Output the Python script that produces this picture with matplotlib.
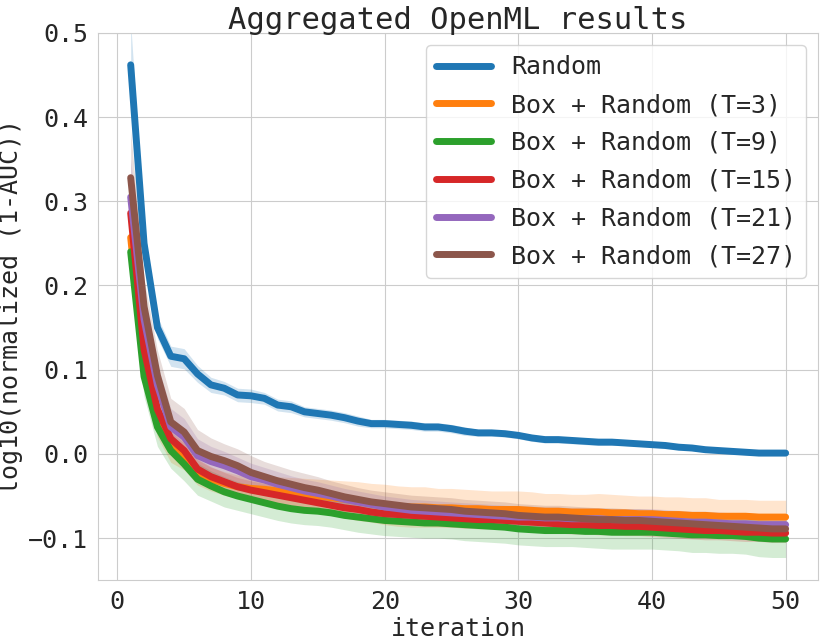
import matplotlib
matplotlib.use('Agg')
import matplotlib.pyplot as plt
import seaborn as sns
import numpy as np

iterations = list(range(1, 51))

random_mean = [0.462, 0.250, 0.150, 0.116, 0.113, 0.095, 0.082, 0.078, 0.070, 0.069,
               0.066, 0.058, 0.056, 0.050, 0.048, 0.046, 0.043, 0.039, 0.036, 0.036,
               0.035, 0.034, 0.032, 0.032, 0.030, 0.027, 0.025, 0.025, 0.024, 0.022,
               0.019, 0.017, 0.017, 0.016, 0.015, 0.014, 0.014, 0.013, 0.012, 0.011,
               0.010, 0.008, 0.007, 0.005, 0.004, 0.003, 0.002, 0.001, 0.001, 0.001]
random_err = [0.050, 0.020, 0.013, 0.012, 0.012, 0.010, 0.009, 0.008, 0.008, 0.008,
              0.007, 0.007, 0.007, 0.006, 0.006, 0.006, 0.006, 0.006, 0.005, 0.005,
              0.005, 0.005, 0.005, 0.005, 0.005, 0.005, 0.004, 0.004, 0.004, 0.004,
              0.004, 0.004, 0.004, 0.004, 0.004, 0.004, 0.004, 0.003, 0.003, 0.003,
              0.003, 0.003, 0.003, 0.003, 0.003, 0.003, 0.003, 0.003, 0.003, 0.003]

t3_mean = [0.257, 0.105, 0.040, 0.008, -0.003, -0.022, -0.030, -0.035, -0.039, -0.041,
           -0.042, -0.044, -0.046, -0.048, -0.050, -0.052, -0.054, -0.056, -0.058, -0.060,
           -0.062, -0.063, -0.063, -0.064, -0.064, -0.065, -0.065, -0.066, -0.066, -0.066,
           -0.067, -0.068, -0.068, -0.069, -0.069, -0.069, -0.070, -0.070, -0.071, -0.071,
           -0.072, -0.072, -0.073, -0.073, -0.074, -0.074, -0.074, -0.075, -0.075, -0.075]
t3_err = [0.030, 0.022, 0.020, 0.018, 0.016, 0.015, 0.014, 0.014, 0.014, 0.015,
          0.016, 0.017, 0.018, 0.019, 0.020, 0.021, 0.022, 0.023, 0.023, 0.024,
          0.024, 0.024, 0.024, 0.023, 0.023, 0.023, 0.022, 0.022, 0.022, 0.022,
          0.022, 0.021, 0.021, 0.021, 0.021, 0.022, 0.022, 0.021, 0.021, 0.021,
          0.021, 0.021, 0.021, 0.021, 0.020, 0.020, 0.020, 0.020, 0.020, 0.020]

t9_mean = [0.240, 0.092, 0.032, 0.004, -0.012, -0.030, -0.038, -0.045, -0.050, -0.054,
           -0.058, -0.062, -0.065, -0.067, -0.068, -0.070, -0.073, -0.075, -0.077, -0.079,
           -0.080, -0.081, -0.082, -0.082, -0.083, -0.084, -0.085, -0.086, -0.087, -0.089,
           -0.090, -0.091, -0.091, -0.091, -0.092, -0.092, -0.093, -0.093, -0.093, -0.093,
           -0.094, -0.095, -0.096, -0.096, -0.097, -0.097, -0.098, -0.100, -0.101, -0.101]
t9_err = [0.025, 0.024, 0.023, 0.021, 0.020, 0.019, 0.018, 0.018, 0.017, 0.017,
          0.017, 0.017, 0.017, 0.017, 0.017, 0.017, 0.017, 0.018, 0.018, 0.018,
          0.018, 0.018, 0.018, 0.018, 0.018, 0.019, 0.019, 0.019, 0.019, 0.019,
          0.019, 0.019, 0.019, 0.019, 0.019, 0.020, 0.020, 0.020, 0.020, 0.020,
          0.020, 0.020, 0.021, 0.021, 0.021, 0.021, 0.021, 0.022, 0.022, 0.022]

t15_mean = [0.286, 0.124, 0.053, 0.018, 0.004, -0.018, -0.027, -0.033, -0.039, -0.043,
            -0.046, -0.049, -0.052, -0.055, -0.058, -0.061, -0.064, -0.066, -0.069, -0.071,
            -0.072, -0.073, -0.074, -0.075, -0.076, -0.077, -0.078, -0.078, -0.079, -0.080,
            -0.081, -0.082, -0.083, -0.084, -0.084, -0.085, -0.085, -0.086, -0.086, -0.087,
            -0.088, -0.089, -0.090, -0.091, -0.091, -0.092, -0.093, -0.093, -0.094, -0.094]
t15_err = [0.035, 0.022, 0.016, 0.014, 0.013, 0.012, 0.012, 0.011, 0.011, 0.011,
           0.011, 0.011, 0.011, 0.011, 0.011, 0.011, 0.011, 0.011, 0.011, 0.011,
           0.011, 0.011, 0.011, 0.011, 0.011, 0.011, 0.011, 0.011, 0.011, 0.011,
           0.011, 0.011, 0.011, 0.011, 0.011, 0.011, 0.011, 0.011, 0.011, 0.011,
           0.011, 0.011, 0.011, 0.011, 0.011, 0.011, 0.011, 0.011, 0.011, 0.011]

t21_mean = [0.305, 0.160, 0.082, 0.032, 0.020, -0.002, -0.009, -0.014, -0.020, -0.027,
            -0.031, -0.036, -0.040, -0.044, -0.047, -0.050, -0.054, -0.057, -0.060, -0.063,
            -0.065, -0.067, -0.068, -0.069, -0.070, -0.071, -0.072, -0.073, -0.074, -0.075,
            -0.075, -0.076, -0.076, -0.077, -0.077, -0.077, -0.078, -0.078, -0.078, -0.078,
            -0.079, -0.080, -0.081, -0.081, -0.082, -0.083, -0.083, -0.084, -0.084, -0.084]
t21_err = [0.045, 0.028, 0.024, 0.022, 0.022, 0.020, 0.018, 0.017, 0.016, 0.016,
           0.015, 0.015, 0.014, 0.014, 0.014, 0.013, 0.013, 0.013, 0.013, 0.013,
           0.013, 0.013, 0.013, 0.013, 0.013, 0.013, 0.013, 0.013, 0.013, 0.013,
           0.013, 0.013, 0.013, 0.013, 0.013, 0.013, 0.013, 0.013, 0.013, 0.013,
           0.013, 0.013, 0.013, 0.013, 0.013, 0.013, 0.013, 0.013, 0.013, 0.013]

t27_mean = [0.328, 0.175, 0.093, 0.038, 0.026, 0.004, -0.003, -0.008, -0.014, -0.022,
            -0.027, -0.032, -0.036, -0.040, -0.043, -0.047, -0.051, -0.054, -0.057, -0.059,
            -0.061, -0.063, -0.064, -0.065, -0.066, -0.068, -0.069, -0.070, -0.071, -0.073,
            -0.074, -0.075, -0.075, -0.076, -0.077, -0.078, -0.078, -0.079, -0.079, -0.080,
            -0.081, -0.082, -0.083, -0.084, -0.085, -0.086, -0.087, -0.088, -0.089, -0.089]
t27_err = [0.055, 0.032, 0.030, 0.028, 0.028, 0.025, 0.022, 0.020, 0.020, 0.020,
           0.018, 0.018, 0.017, 0.017, 0.016, 0.015, 0.015, 0.014, 0.014, 0.014,
           0.014, 0.014, 0.014, 0.014, 0.014, 0.014, 0.014, 0.014, 0.014, 0.014,
           0.014, 0.014, 0.014, 0.014, 0.014, 0.014, 0.014, 0.014, 0.014, 0.014,
           0.014, 0.014, 0.014, 0.014, 0.014, 0.014, 0.014, 0.014, 0.014, 0.014]

labels = ['Random', 'Box + Random (T=3)', 'Box + Random (T=9)',
          'Box + Random (T=15)', 'Box + Random (T=21)', 'Box + Random (T=27)']
means = [random_mean, t3_mean, t9_mean, t15_mean, t21_mean, t27_mean]
errs = [random_err, t3_err, t9_err, t15_err, t21_err, t27_err]

sns.set_style('whitegrid')
plt.rcParams['font.family'] = ['DejaVu Sans Mono']

fig, ax = plt.subplots(figsize=(8.3, 6.44), dpi=100)
fig.subplots_adjust(left=0.118, right=0.986, top=0.949, bottom=0.099)

colors = sns.color_palette('tab10')
x = np.array(iterations)
for i in range(len(labels)):
    m = np.array(means[i])
    e = np.array(errs[i])
    ax.fill_between(x, m - e, m + e, color=colors[i], alpha=0.2, linewidth=0)
    ax.plot(x, m, color=colors[i], label=labels[i], linewidth=5,
            solid_capstyle='round')

ax.set_ylim(-0.15, 0.5)
ax.set_yticks([-0.1, 0.0, 0.1, 0.2, 0.3, 0.4, 0.5])
ax.set_yticklabels(['\u22120.1', '0.0', '0.1', '0.2', '0.3', '0.4', '0.5'])
ax.set_xticks([0, 10, 20, 30, 40, 50])
ax.tick_params(labelsize=18)
ax.set_xlabel('iteration', fontsize=18, labelpad=2)
ax.set_ylabel('log10(normalized (1-AUC))', fontsize=18)
ax.set_title('Aggregated OpenML results', fontsize=22, pad=3)
ax.legend(loc='upper right', fontsize=18, handlelength=2.2, labelspacing=0.55)

fig.savefig('out.png', dpi=100)
